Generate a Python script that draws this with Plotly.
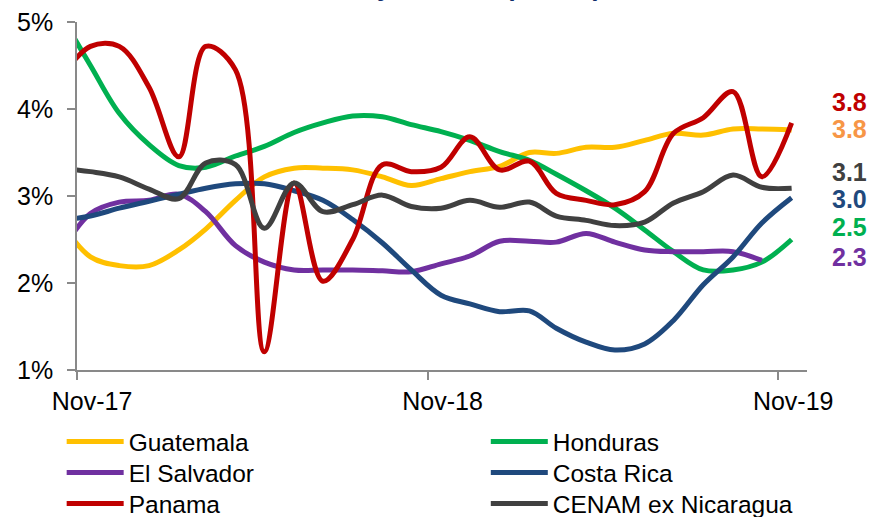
import pandas as pd
import plotly.graph_objects as go

# Monthly observations (mid-month), Oct-17 .. Nov-19
dates = pd.date_range("2017-10-01", periods=26, freq="MS") + pd.Timedelta(days=14)

guatemala = [2.70, 2.30, 2.20, 2.20, 2.38, 2.62, 2.95, 3.22, 3.32, 3.32, 3.30, 3.22, 3.12,
             3.20, 3.28, 3.34, 3.50, 3.49, 3.56, 3.56, 3.64, 3.72, 3.70, 3.77, 3.77, 3.76]
honduras = [5.08, 4.50, 3.95, 3.59, 3.35, 3.33, 3.46, 3.57, 3.73, 3.84, 3.92, 3.91, 3.82,
            3.74, 3.64, 3.51, 3.41, 3.25, 3.06, 2.86, 2.61, 2.36, 2.15, 2.15, 2.24, 2.50]
el_salvador = [2.35, 2.80, 2.93, 2.95, 3.02, 2.82, 2.43, 2.24, 2.15, 2.15, 2.15, 2.14, 2.13,
               2.22, 2.31, 2.48, 2.48, 2.47, 2.57, 2.47, 2.38, 2.36, 2.36, 2.36, 2.26, None]
costa_rica = [2.72, 2.77, 2.86, 2.94, 3.02, 3.09, 3.14, 3.14, 3.06, 2.95, 2.73, 2.46, 2.15,
              1.86, 1.76, 1.67, 1.68, 1.48, 1.32, 1.23, 1.30, 1.57, 1.98, 2.30, 2.69, 2.98]
panama = [4.35, 4.72, 4.72, 4.25, 3.45, 4.72, 4.45, 1.21, 3.15, 2.02, 2.50, 3.36, 3.28,
          3.33, 3.68, 3.30, 3.40, 3.03, 2.95, 2.90, 3.05, 3.72, 3.90, 4.20, 3.22, 3.84]
cenam = [3.32, 3.28, 3.22, 3.08, 2.97, 3.38, 3.36, 2.63, 3.15, 2.82, 2.90, 3.01, 2.88,
         2.86, 2.95, 2.87, 2.93, 2.77, 2.72, 2.66, 2.70, 2.92, 3.05, 3.24, 3.10, 3.09]

series_names = ["Guatemala", "Honduras", "El Salvador", "Costa Rica", "Panama", "CENAM ex Nicaragua"]
series_values = [guatemala, honduras, el_salvador, costa_rica, panama, cenam]
series_colors = ["#FFC000", "#00B050", "#7030A0", "#1F497D", "#C00000", "#404040"]

x_tick_vals = ["2017-11-01", "2018-11-01", "2019-11-01"]
x_tick_text = ["Nov-17", "Nov-18", "Nov-19"]
y_tick_vals = [1, 2, 3, 4, 5]
y_tick_text = ["1%", "2%", "3%", "4%", "5%"]

# End-of-series labels (top to bottom)
end_labels = ["3.8", "3.8", "3.1", "3.0", "2.5", "2.3"]
end_label_colors = ["#C00000", "#F79646", "#404040", "#1F497D", "#00B050", "#7030A0"]
end_label_y = [4.08, 3.77, 3.28, 2.97, 2.64, 2.30]

FONT = "Liberation Sans, Arial, sans-serif"

# legend grid: two columns, three rows (row-major order as in the reference)
legend_col_x = [-0.021, 0.560]
legend_row_y = [0.1896, 0.1296, 0.0696]

fig = go.Figure()
legend_layouts = {}
for i, (name, vals, col) in enumerate(zip(series_names, series_values, series_colors)):
    lg = "legend" if i == 0 else f"legend{i + 1}"
    fig.add_trace(go.Scatter(
        x=dates, y=vals, name=name, mode="lines",
        line=dict(color=col, width=5, shape="spline", smoothing=1.0),
        connectgaps=False, legend=lg,
    ))
    legend_layouts[lg] = dict(
        orientation="v", x=legend_col_x[i % 2], xref="paper", xanchor="left",
        y=legend_row_y[i // 2], yref="container", yanchor="top",
        font=dict(family=FONT, size=24.5, color="black"),
        itemwidth=57, bgcolor="rgba(0,0,0,0)",
    )

for txt, col, yv in zip(end_labels, end_label_colors, end_label_y):
    fig.add_annotation(
        x=1.031, xref="paper", y=yv, yref="y", text=f"<b>{txt}</b>",
        showarrow=False, xanchor="left", yanchor="middle",
        font=dict(family=FONT, size=25, color=col),
    )

fig.update_layout(
    width=869, height=517,
    margin=dict(l=77, r=62, t=22, b=147, autoexpand=False),
    plot_bgcolor="white", paper_bgcolor="white",
    font=dict(family=FONT, size=25, color="black"),
    title=dict(
        text="<b>Inflation by Member (% YoY)</b>",
        font=dict(family=FONT, size=26, color="#0F2D6B"),
        xref="container", yref="container",
        x=0.692, xanchor="right", y=1.0, yanchor="bottom",
        pad=dict(b=4, t=0, l=0, r=0),
    ),
    showlegend=True,
    xaxis=dict(
        type="date", range=["2017-11-01", "2019-12-01"],
        tickvals=x_tick_vals, ticktext=x_tick_text,
        ticks="outside", ticklen=8, tickwidth=1.5, tickcolor="#898989",
        showline=True, linecolor="#898989", linewidth=1.5,
        showgrid=False, zeroline=False, ticklabelshift=15, automargin=False,
        tickfont=dict(family=FONT, size=25, color="black"),
    ),
    yaxis=dict(
        range=[1, 5], tickvals=y_tick_vals, ticktext=y_tick_text,
        ticks="outside", ticklen=8, tickwidth=1.5, tickcolor="#898989",
        showline=True, linecolor="#898989", linewidth=1.5,
        showgrid=False, zeroline=False, ticklabelstandoff=9, automargin=False,
        tickfont=dict(family=FONT, size=25, color="black"),
    ),
    **legend_layouts,
)

fig.write_html("out.html")
